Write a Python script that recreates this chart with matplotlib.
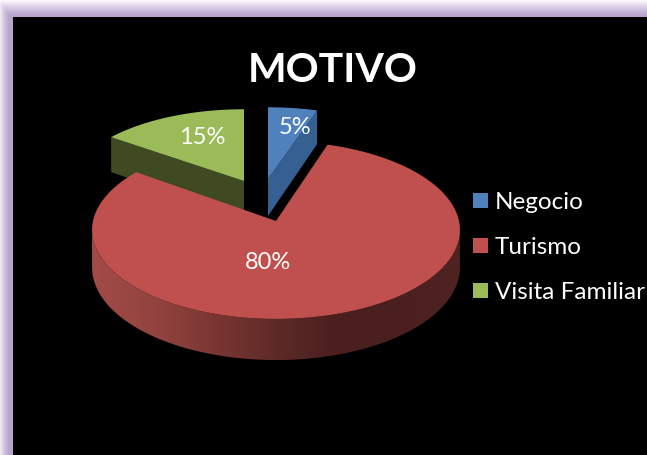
import matplotlib
matplotlib.use('Agg')
import matplotlib.pyplot as plt
from matplotlib.colors import LinearSegmentedColormap
from matplotlib.patches import Polygon, Rectangle
import numpy as np

categories = ['Negocio', 'Turismo', 'Visita Familiar']
values = [5, 80, 15]
colors = ['#4f81bd', '#c0504d', '#9bbb59']
side_colors = ['#376092', '#7a3533', '#3f4a22']

# perspective of the tilted pie
k = 0.101
depth = 37
# one entry per slice: wedge tip and radii
geometry = [
    dict(tip=(268, 180), rx=174, ry=79),
    dict(tip=(276, 222), rx=183, ry=88),
    dict(tip=(244, 182), rx=174, ry=79),
]

def arc(g, a0, a1):
    t = np.radians(np.linspace(a0, a1, 300))
    w = 1 + k * np.cos(t)
    x = g['tip'][0] + g['rx'] * np.sin(t) / w
    y = g['tip'][1] - g['ry'] * np.cos(t) / w
    return np.column_stack([x, y]), depth / w

plt.rcParams['font.family'] = ['Lato', 'DejaVu Sans']
fig = plt.figure(figsize=(6.47, 4.56), dpi=100)
ax = fig.add_axes([0, 0, 1, 1])
ax.set_xlim(0, 647)
ax.set_ylim(456, 0)
ax.axis('off')

# purple frame fading out to white at the top and left
fade = LinearSegmentedColormap.from_list('fade', ['#ffffff', '#d9cde4', '#b9a3cf'])
xx, yy = np.meshgrid(np.arange(647) + 0.5, np.arange(456) + 0.5)
ramp = np.minimum(np.clip(0.2 + xx / 11, 0, 1), np.clip(yy / 16, 0, 1))
ax.imshow(ramp, cmap=fade, extent=(0, 647, 456, 0), aspect='auto', zorder=0)
ax.add_patch(Rectangle((13, 18), 640, 445, color='black', lw=0, zorder=1))

# the slices from their shares
edges = np.cumsum([0] + values) * 3.6
starts = edges[:-1]
ends = edges[1:]

# green
g = geometry[2]
p, d = arc(g, starts[2], ends[2])
tip = np.array(g['tip'])
wall = np.array([p[0], p[0] + [0, d[0]], tip + [0, depth], tip])
ax.add_patch(Polygon(wall, color=side_colors[2], lw=0, zorder=2))
ax.add_patch(Polygon(np.vstack([tip, p]), color=colors[2], lw=0, zorder=3))

# blue
g = geometry[0]
p, d = arc(g, starts[0], ends[0])
tip = np.array(g['tip'])
wall = np.array([p[-1], p[-1] + [0, d[-1]], tip + [0, depth], tip])
ax.add_patch(Polygon(wall, color=side_colors[0], lw=0, zorder=2))
ax.add_patch(Polygon(np.vstack([tip, p]), color=colors[0], lw=0, zorder=3))

# red, outer wall with a horizontal shading
g = geometry[1]
p, d = arc(g, starts[1], ends[1])
tip = np.array(g['tip'])
i0, i1 = np.argmax(p[:, 0]), np.argmin(p[:, 0])
front = p[i0:i1 + 1]
wall = np.vstack([front, (front + np.column_stack([0 * d[i0:i1 + 1], d[i0:i1 + 1]]))[::-1]])
shade = LinearSegmentedColormap.from_list('shade', ['#a24b48', '#93443f', '#7a3633', '#5e2a28', '#4a1f1e', '#4a1f1e', '#4e2321'])
im = ax.imshow(np.linspace(0, 1, 256)[None, :], cmap=shade, extent=(92, 461, 400, 200), aspect='auto', zorder=4)
clip = Polygon(wall, transform=ax.transData, facecolor='none', edgecolor='none')
ax.add_patch(clip)
im.set_clip_path(clip)
ax.add_patch(Polygon(np.vstack([tip, p]), color=colors[1], lw=0, zorder=5))

ax.set_xlim(0, 647)
ax.set_ylim(456, 0)

ax.text(333, 71, 'MOTIVO', color='white', fontsize=29.5, fontweight='bold', ha='center', va='center', zorder=6)
ax.text(295, 128, f'{values[0]}%', color='white', fontsize=17, ha='center', va='center', zorder=6)
ax.text(268, 263, f'{values[1]}%', color='white', fontsize=17, ha='center', va='center', zorder=6)
ax.text(202, 138, f'{values[2]}%', color='white', fontsize=17, ha='center', va='center', zorder=6)

# legend
for name, col, y in zip(categories, colors, [201, 246, 291]):
    ax.add_patch(Rectangle((473, y - 7), 15, 15, color=col, lw=0, zorder=6))
    ax.text(495, y + 2, name, color='white', fontsize=17.5, ha='left', va='center', zorder=6)

fig.savefig('out.png', dpi=100)
